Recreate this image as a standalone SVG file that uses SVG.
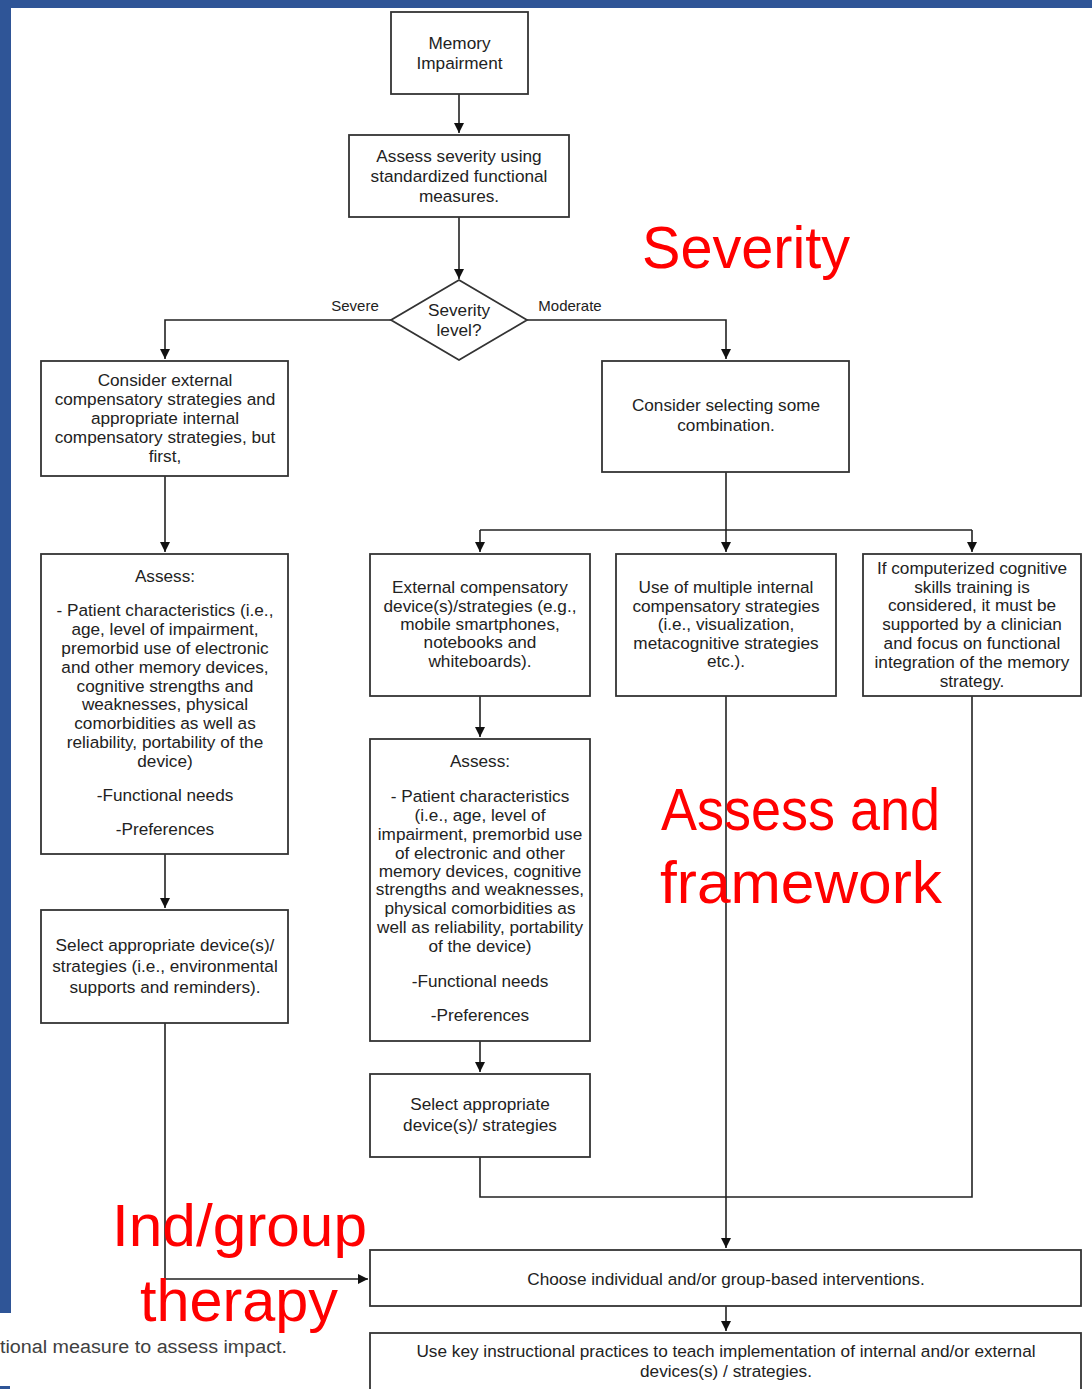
<svg xmlns="http://www.w3.org/2000/svg" width="1092" height="1389" viewBox="0 0 1092 1389">
<defs>
<marker id="arr" viewBox="0 0 10 10" refX="10" refY="5" markerWidth="10" markerHeight="10" markerUnits="userSpaceOnUse" orient="auto">
<path d="M0,0 L10,5 L0,10 Z" fill="#111"/>
</marker>
<style>
.box{fill:#fff;stroke:#333;stroke-width:1.8}
.t{font-family:"Liberation Sans",Arial,sans-serif;font-size:17.2px;fill:#222;text-anchor:middle}
.s{font-family:"Liberation Sans",Arial,sans-serif;font-size:15px;fill:#222;text-anchor:middle}
.c{fill:none;stroke:#222;stroke-width:1.6}
.red{font-family:"Liberation Sans",Arial,sans-serif;font-size:60px;fill:#ff0000}
</style>
</defs>
<rect x="0" y="0" width="1092" height="1389" fill="#fff"/>
<rect x="0" y="0" width="1092" height="8" fill="#2f5597"/>
<rect x="0" y="0" width="11" height="1313" fill="#2f5597"/>
<rect x="0" y="1386" width="10" height="3" fill="#2f5597"/>

<g id="connectors">
<path class="c" d="M459,94 V133" marker-end="url(#arr)"/>
<path class="c" d="M459,217 V279" marker-end="url(#arr)"/>
<path class="c" d="M391,320 H165 V359" marker-end="url(#arr)"/>
<path class="c" d="M527,320 H726 V359" marker-end="url(#arr)"/>
<path class="c" d="M165,476 V552" marker-end="url(#arr)"/>
<path class="c" d="M726,472 V552" marker-end="url(#arr)"/>
<path class="c" d="M480,530 H972"/>
<path class="c" d="M480,530 V552" marker-end="url(#arr)"/>
<path class="c" d="M972,530 V552" marker-end="url(#arr)"/>
<path class="c" d="M165,854 V908" marker-end="url(#arr)"/>
<path class="c" d="M480,696 V737" marker-end="url(#arr)"/>
<path class="c" d="M480,1041 V1072" marker-end="url(#arr)"/>
<path class="c" d="M480,1157 V1197 H972 V696"/>
<path class="c" d="M726,696 V1248" marker-end="url(#arr)"/>
<path class="c" d="M165,1023 V1279 H368" marker-end="url(#arr)"/>
<path class="c" d="M726,1306 V1331" marker-end="url(#arr)"/>
</g>

<g id="n-memory">
<rect class="box" x="391" y="12" width="137" height="82"/>
<text class="t" x="459.5" y="49">Memory</text>
<text class="t" x="459.5" y="69">Impairment</text>
</g>
<g id="n-assess-severity">
<rect class="box" x="349" y="135" width="220" height="82"/>
<text class="t" x="459" y="162">Assess severity using</text>
<text class="t" x="459" y="182">standardized functional</text>
<text class="t" x="459" y="202">measures.</text>
</g>
<g id="n-severity-level">
<polygon class="box" points="459,280 527,320 459,360 391,320"/>
<text class="t" x="459" y="316">Severity</text>
<text class="t" x="459" y="336">level?</text>
</g>
<text class="s" x="355" y="311">Severe</text>
<text class="s" x="570" y="311">Moderate</text>

<g id="n-consider-external">
<rect class="box" x="41" y="361" width="247" height="115"/>
<text class="t" x="165" y="386">Consider external</text>
<text class="t" x="165" y="405">compensatory strategies and</text>
<text class="t" x="165" y="424">appropriate internal</text>
<text class="t" x="165" y="443">compensatory strategies, but</text>
<text class="t" x="165" y="462">first,</text>
</g>
<g id="n-consider-combination">
<rect class="box" x="602" y="361" width="247" height="111"/>
<text class="t" x="726" y="411">Consider selecting some</text>
<text class="t" x="726" y="431">combination.</text>
</g>
<g id="n-assess-left">
<rect class="box" x="41" y="554" width="247" height="300"/>
<text class="t" x="165" y="582">Assess:</text>
<text class="t" x="165" y="616">- Patient characteristics (i.e.,</text>
<text class="t" x="165" y="635">age, level of impairment,</text>
<text class="t" x="165" y="654">premorbid use of electronic</text>
<text class="t" x="165" y="673">and other memory devices,</text>
<text class="t" x="165" y="692">cognitive strengths and</text>
<text class="t" x="165" y="710">weaknesses, physical</text>
<text class="t" x="165" y="729">comorbidities as well as</text>
<text class="t" x="165" y="748">reliability, portability of the</text>
<text class="t" x="165" y="767">device)</text>
<text class="t" x="165" y="801">-Functional needs</text>
<text class="t" x="165" y="835">-Preferences</text>
</g>
<g id="n-select-left">
<rect class="box" x="41" y="910" width="247" height="113"/>
<text class="t" x="165" y="951">Select appropriate device(s)/</text>
<text class="t" x="165" y="972">strategies (i.e., environmental</text>
<text class="t" x="165" y="993">supports and reminders).</text>
</g>
<g id="n-external">
<rect class="box" x="370" y="554" width="220" height="142"/>
<text class="t" x="480" y="593">External compensatory</text>
<text class="t" x="480" y="612">device(s)/strategies (e.g.,</text>
<text class="t" x="480" y="630">mobile smartphones,</text>
<text class="t" x="480" y="648">notebooks and</text>
<text class="t" x="480" y="667">whiteboards).</text>
</g>
<g id="n-internal">
<rect class="box" x="616" y="554" width="220" height="142"/>
<text class="t" x="726" y="593">Use of multiple internal</text>
<text class="t" x="726" y="612">compensatory strategies</text>
<text class="t" x="726" y="630">(i.e., visualization,</text>
<text class="t" x="726" y="649">metacognitive strategies</text>
<text class="t" x="726" y="667">etc.).</text>
</g>
<g id="n-computerized">
<rect class="box" x="863" y="554" width="218" height="142"/>
<text class="t" x="972" y="574">If computerized cognitive</text>
<text class="t" x="972" y="593">skills training is</text>
<text class="t" x="972" y="611">considered, it must be</text>
<text class="t" x="972" y="630">supported by a clinician</text>
<text class="t" x="972" y="649">and focus on functional</text>
<text class="t" x="972" y="668">integration of the memory</text>
<text class="t" x="972" y="687">strategy.</text>
</g>
<g id="n-assess-mid">
<rect class="box" x="370" y="739" width="220" height="302"/>
<text class="t" x="480" y="767">Assess:</text>
<text class="t" x="480" y="802">- Patient characteristics</text>
<text class="t" x="480" y="821">(i.e., age, level of</text>
<text class="t" x="480" y="840">impairment, premorbid use</text>
<text class="t" x="480" y="859">of electronic and other</text>
<text class="t" x="480" y="877">memory devices, cognitive</text>
<text class="t" x="480" y="895">strengths and weaknesses,</text>
<text class="t" x="480" y="914">physical comorbidities as</text>
<text class="t" x="480" y="933">well as reliability, portability</text>
<text class="t" x="480" y="952">of the device)</text>
<text class="t" x="480" y="987">-Functional needs</text>
<text class="t" x="480" y="1021">-Preferences</text>
</g>
<g id="n-select-mid">
<rect class="box" x="370" y="1074" width="220" height="83"/>
<text class="t" x="480" y="1110">Select appropriate</text>
<text class="t" x="480" y="1131">device(s)/ strategies</text>
</g>
<g id="n-choose">
<rect class="box" x="370" y="1250" width="711" height="56"/>
<text class="t" x="726" y="1285">Choose individual and/or group-based interventions.</text>
</g>
<g id="n-usekey">
<rect class="box" x="370" y="1333" width="711" height="58"/>
<text class="t" x="726" y="1357">Use key instructional practices to teach implementation of internal and/or external</text>
<text class="t" x="726" y="1377">devices(s) / strategies.</text>
</g>

<text class="red" x="642" y="268" textLength="208" lengthAdjust="spacingAndGlyphs">Severity</text>
<text class="red" x="661" y="830" textLength="279" lengthAdjust="spacingAndGlyphs">Assess and</text>
<text class="red" x="660" y="903" textLength="282" lengthAdjust="spacingAndGlyphs">framework</text>
<text class="red" x="112" y="1246" textLength="255" lengthAdjust="spacingAndGlyphs">Ind/group</text>
<text class="red" x="140" y="1321" textLength="198" lengthAdjust="spacingAndGlyphs">therapy</text>
<text x="0" y="1353" font-family="'Liberation Sans',Arial,sans-serif" font-size="18" fill="#404040" textLength="287" lengthAdjust="spacingAndGlyphs">tional measure to assess impact.</text>
</svg>
